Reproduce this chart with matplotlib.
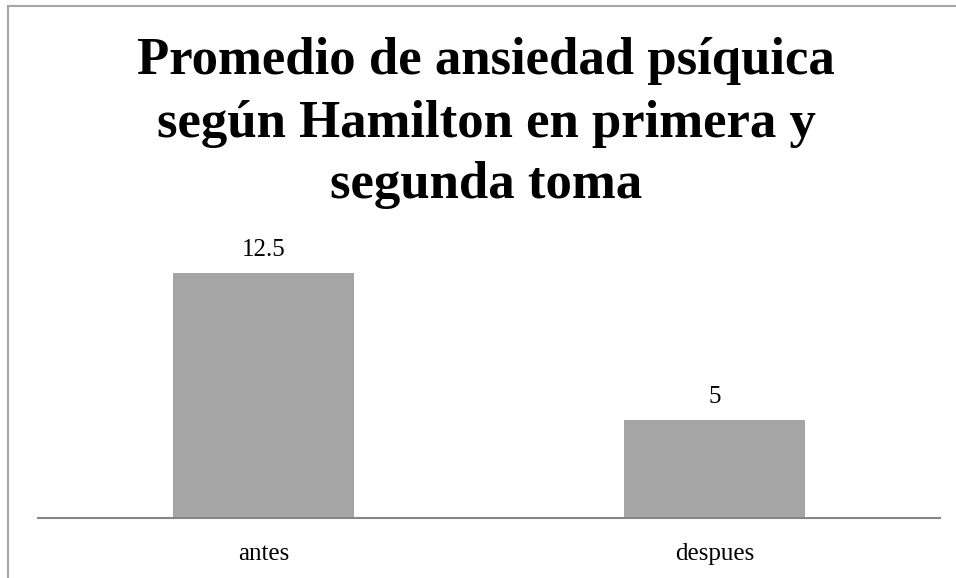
import matplotlib.pyplot as plt
from matplotlib.lines import Line2D

categorias = ["antes", "despues"]
promedios = [12.5, 5]
etiquetas = ["12.5", "5"]
titulo = ["Promedio de ansiedad psíquica",
          "según Hamilton en primera y",
          "segunda toma"]

plt.rcParams['font.family'] = ['Liberation Serif', 'DejaVu Serif']

W, H = 956, 578
fig = plt.figure(figsize=(W / 100, H / 100), dpi=100)
ax = fig.add_axes([38 / W, 1 - 518 / H, 902 / W, (518 - 244) / H])

x = range(len(categorias))
barras = ax.bar(x, promedios, width=0.4, color='#a5a5a5')
for b, txt in zip(barras, etiquetas):
    ax.annotate(txt, (b.get_x() + b.get_width() / 2, b.get_height()),
                xytext=(0, 9), textcoords='offset points',
                ha='center', va='bottom', fontsize=18)

ax.set_xlim(-0.5, 1.5)
ax.set_ylim(0, 14)
ax.set_xticks(list(x))
ax.set_xticklabels(categorias, fontsize=18)
ax.tick_params(axis='x', length=0, pad=18)
ax.set_yticks([])
for s in ['top', 'right', 'left']:
    ax.spines[s].set_visible(False)
ax.spines['bottom'].set_color('#868686')
ax.spines['bottom'].set_linewidth(1.5)

# titulo en tres lineas, cada una sobre su linea base
for linea, base in zip(titulo, [74, 137, 198]):
    fig.text(486 / W, 1 - base / H, linea, ha='center', va='baseline',
             fontsize=38, fontweight='bold')

# borde del area del grafico (solo arriba e izquierda)
borde = '#a6a6a6'
fig.add_artist(Line2D([8 / W, 1], [1 - 6 / H, 1 - 6 / H],
                      transform=fig.transFigure, color=borde, lw=1.5))
fig.add_artist(Line2D([8 / W, 8 / W], [0, 1 - 6 / H],
                      transform=fig.transFigure, color=borde, lw=1.5))

fig.savefig("out.png", dpi=100)
